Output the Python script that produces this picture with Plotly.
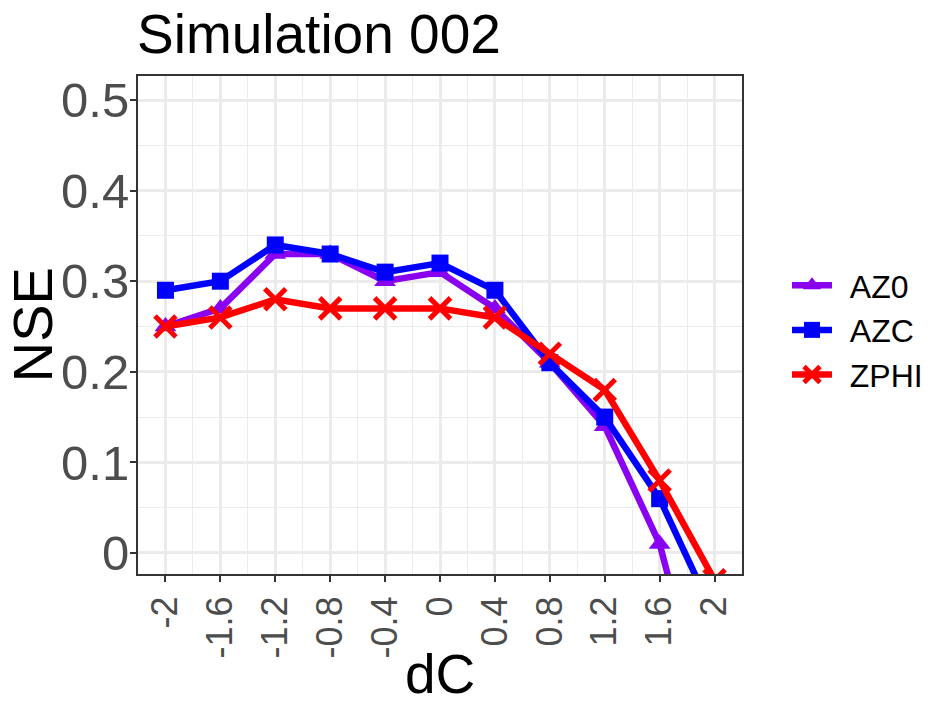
import plotly.graph_objects as go

# data
dC = [-2, -1.6, -1.2, -0.8, -0.4, 0, 0.4, 0.8, 1.2, 1.6, 2]
x_labels = ["-2", "-1.6", "-1.2", "-0.8", "-0.4", "0", "0.4", "0.8", "1.2", "1.6", "2"]
nse_az0 = [0.25, 0.27, 0.33, 0.33, 0.30, 0.31, 0.27, 0.21, 0.14, 0.01, -0.22]
nse_azc = [0.29, 0.30, 0.34, 0.33, 0.31, 0.32, 0.29, 0.21, 0.15, 0.06, -0.07]
nse_zphi = [0.25, 0.26, 0.28, 0.27, 0.27, 0.27, 0.26, 0.22, 0.18, 0.08, -0.03]
y_ticks = [0, 0.1, 0.2, 0.3, 0.4, 0.5]
y_labels = ["0", "0.1", "0.2", "0.3", "0.4", "0.5"]

FONT = "Liberation Sans, Arial, Helvetica, sans-serif"
GAP = "\u2009\u2009"  # small gap between legend symbol and label

# page body has an 8px margin, so the figure is 8px smaller than the window
W, H = 925, 696

fig = go.Figure()
fig.add_trace(go.Scatter(x=dC, y=nse_az0, name=GAP + "AZ0", mode="lines+markers",
                         line=dict(color="#8A00F0", width=6.5),
                         marker=dict(symbol="triangle-up", size=19, color="#8A00F0")))
fig.add_trace(go.Scatter(x=dC, y=nse_azc, name=GAP + "AZC", mode="lines+markers",
                         line=dict(color="#0000FF", width=6.5),
                         marker=dict(symbol="square", size=17, color="#0000FF")))
fig.add_trace(go.Scatter(x=dC, y=nse_zphi, name=GAP + "ZPHI", mode="lines+markers",
                         line=dict(color="#FF0000", width=6.5),
                         marker=dict(symbol="x-thin", size=21, color="#FF0000",
                                     line=dict(color="#FF0000", width=5))))

fig.update_layout(
    width=W, height=H,
    margin=dict(l=130, r=191, t=68, b=130, autoexpand=False),
    paper_bgcolor="white", plot_bgcolor="white",
    font=dict(family=FONT, color="black"),
    title=dict(text="Simulation 002", x=129 / W, xanchor="left",
               y=1 - 26 / H, yanchor="middle",
               font=dict(size=55, color="black")),
    showlegend=True,
    legend=dict(x=1.0745, xanchor="left", y=0.49, yanchor="middle",
                font=dict(size=32, color="black"), tracegroupgap=0,
                itemwidth=40, bgcolor="rgba(0,0,0,0)"),
    annotations=[
        dict(text="NSE", x=-0.175, y=0.5, xref="paper", yref="paper",
             textangle=-90, showarrow=False, font=dict(size=56, color="black"),
             xanchor="center", yanchor="middle"),
        dict(text="dC", x=0.5, y=-0.2, xref="paper", yref="paper",
             showarrow=False, font=dict(size=55, color="black"),
             xanchor="center", yanchor="middle"),
    ],
)

fig.update_xaxes(
    range=[-2.2, 2.2], tickvals=dC, ticktext=x_labels, tickangle=-90,
    tickfont=dict(size=36, color="#4D4D4D"),
    ticks="outside", ticklen=6, tickwidth=2, tickcolor="#333333",
    showgrid=True, gridcolor="#EBEBEB", gridwidth=2.5,
    minor=dict(tickvals=[v + 0.2 for v in dC[:-1]], showgrid=True,
               gridcolor="#EBEBEB", gridwidth=1.3, ticks=""),
    showline=True, linecolor="#333333", linewidth=2, mirror=True,
    zeroline=False,
)
fig.update_yaxes(
    range=[-0.0232, 0.5265], tickvals=y_ticks, ticktext=y_labels,
    tickfont=dict(size=49, color="#4D4D4D"), ticklabelstandoff=-9,
    ticks="outside", ticklen=6, tickwidth=2, tickcolor="#333333",
    showgrid=True, gridcolor="#EBEBEB", gridwidth=2.5,
    minor=dict(tickvals=[v + 0.05 for v in y_ticks[:-1]], showgrid=True,
               gridcolor="#EBEBEB", gridwidth=1.3, ticks=""),
    showline=True, linecolor="#333333", linewidth=2, mirror=True,
    zeroline=False,
)

fig.write_html("out.html")
